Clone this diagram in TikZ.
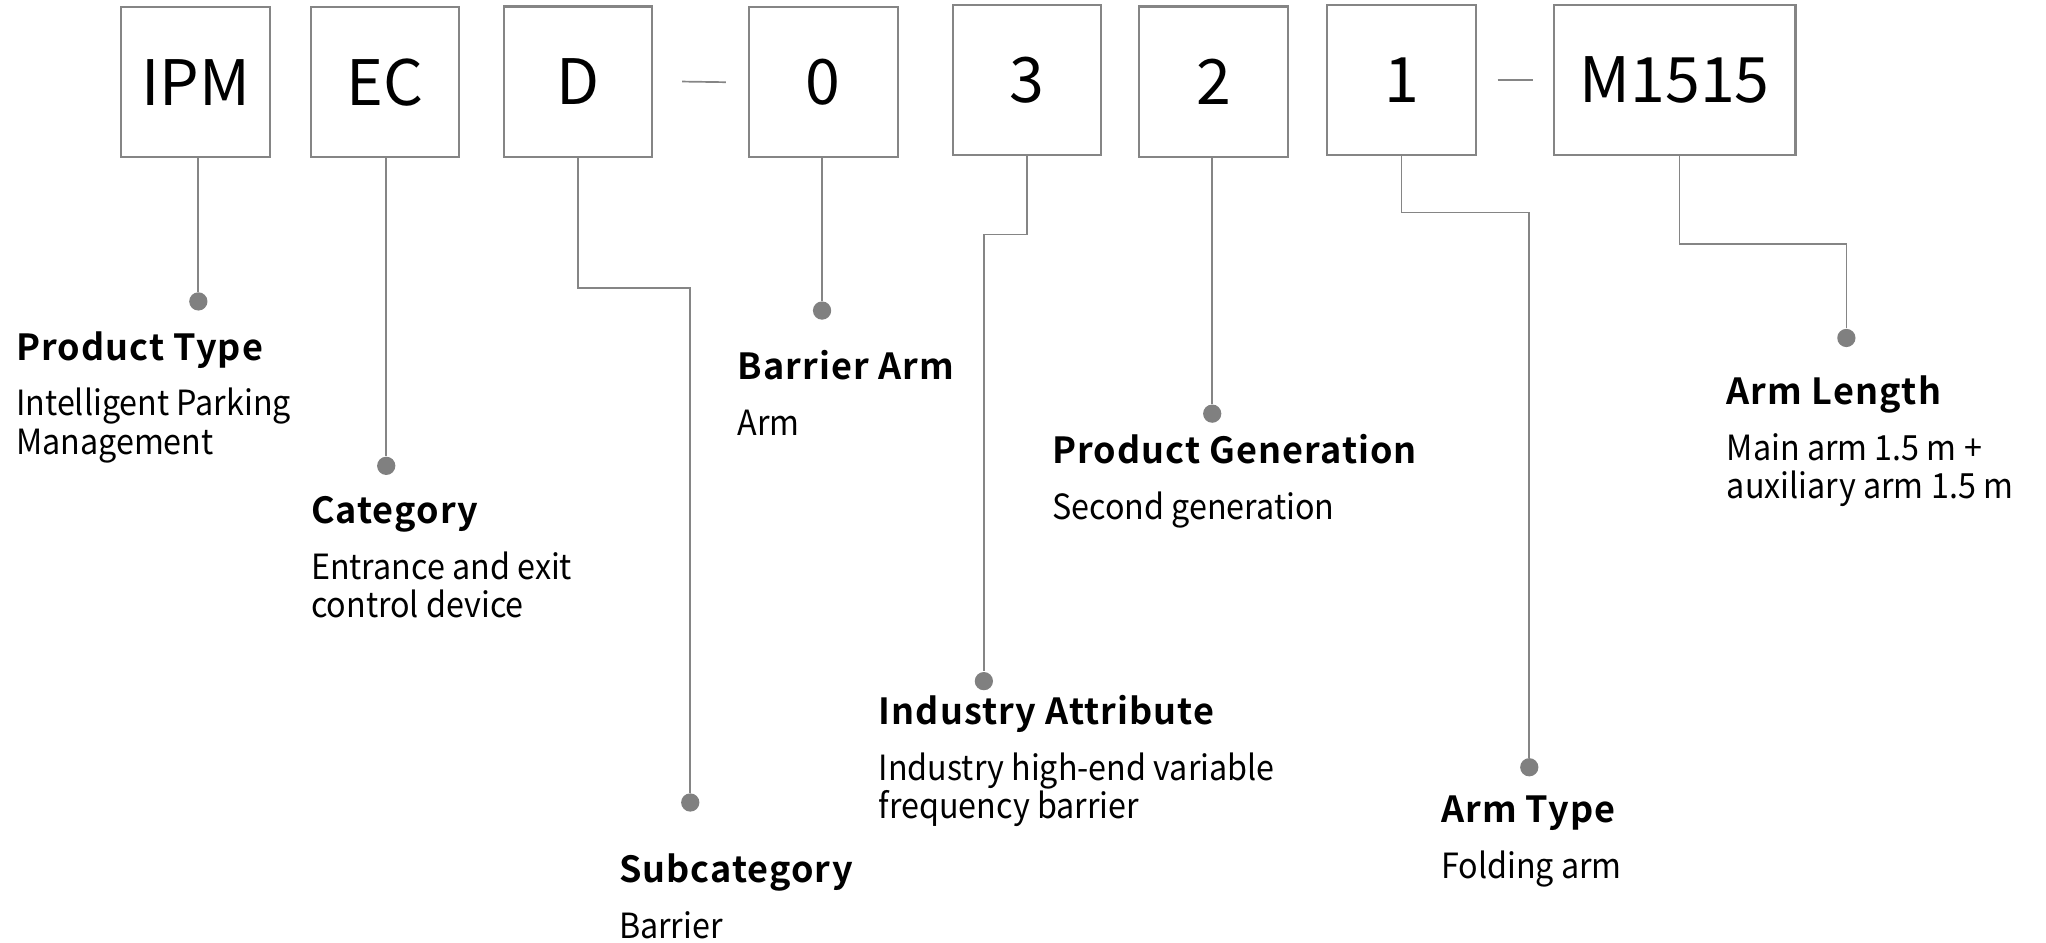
\documentclass[tikz,border=0pt]{standalone}
\usepackage{fontspec}
\setmainfont{Noto Sans CJK SC}
\newfontfamily\ttlfont{Noto Sans CJK SC}[UprightFont=* Bold, LetterSpace=3]
\newfontfamily\descfont{Noto Sans CJK SC}[FakeStretch=0.93]
\usetikzlibrary{positioning, calc}
\definecolor{linegray}{HTML}{858585}
\definecolor{dotgray}{HTML}{808080}

\begin{document}
\begin{tikzpicture}[x=0.5pt, y=-0.5pt,
  codebox/.style={draw=linegray, line width=0.8pt, minimum width=57pt, minimum height=57.5pt,
    inner sep=0pt, font=\fontsize{24}{24}\selectfont},
  lead/.style={draw=linegray, line width=0.65pt},
  pin/.style={circle, fill=dotgray, minimum size=7pt, inner sep=0pt},
  ttl/.style={anchor=base west, inner sep=0pt, font=\ttlfont\fontsize{13.8}{14}\selectfont},
  desc/.style={anchor=base west, inner sep=0pt, align=left, font=\descfont\fontsize{13.3}{14.6}\selectfont}]
  \useasboundingbox (0,0) rectangle (1568,722);

  % code boxes
  \node[codebox] (ipm)   at (150,63)   {IPM};
  \node[codebox] (ec)    at (295,63)   {EC};
  \node[codebox] (d)     at (443,62.5) {D};
  \node[codebox] (zero)  at (631,63)   {0};
  \node[codebox] (three) at (787,61.5) {3};
  \node[codebox] (two)   at (930,62.5) {2};
  \node[codebox] (one)   at (1074,61.5) {1};
  \node[codebox, minimum width=92.5pt] (len) at (1283.5,61.5) {M1515};
  \draw[lead] ($(d.east)+(22,0)$) -- ($(zero.west)+(-17,0)$);
  \draw[lead] ($(one.east)+(16,0)$) -- ($(len.west)+(-15,0)$);

  % pins
  \foreach \n/\x/\y in {pt/152/231, cat/296/357, sub/529/615, arm/630/238,
                        ind/754/522, gen/929/317, at/1172/588, al/1415/259}
    \node[pin] (p-\n) at (\x,\y) {};

  % labels (\b: extra drop when the text has two lines)
  \foreach \n/\x/\y/\b/\t/\d in {
      pt/12/276/29/Product Type/Intelligent Parking\\Management,
      cat/238/401/29/Category/Entrance and exit\\control device,
      sub/474/676/0/Subcategory/Barrier,
      arm/565/291/0/Barrier Arm/Arm,
      ind/673/555/29/Industry Attribute/Industry high-end variable\\frequency barrier,
      gen/806/355/0/Product Generation/Second generation,
      at/1104/630/0/Arm Type/Folding arm,
      al/1323/310/29/Arm Length/Main arm 1.5 m +\\auxiliary arm 1.5 m} {
    \node[ttl] (t-\n) at (\x,\y) {\t};
    \node[desc] (d-\n) at (\x,\y+43+\b) {\d};
  }

  % leaders
  \draw[lead] (ipm.south -| p-pt) -- (p-pt);
  \draw[lead] (ec.south -| p-cat) -- (p-cat);
  \draw[lead] (d.south) -- ++(0,100) -| (p-sub);
  \draw[lead] (zero.south -| p-arm) -- (p-arm);
  \draw[lead] (three.south) -- ++(0,60) -| (p-ind);
  \draw[lead] (two.south -| p-gen) -- (p-gen);
  \draw[lead] (one.south) -- ++(0,43) -| (p-at);
  \draw[lead] ($(len.south)+(3.5,0)$) -- ++(0,67) -| (p-al);
\end{tikzpicture}
\end{document}
